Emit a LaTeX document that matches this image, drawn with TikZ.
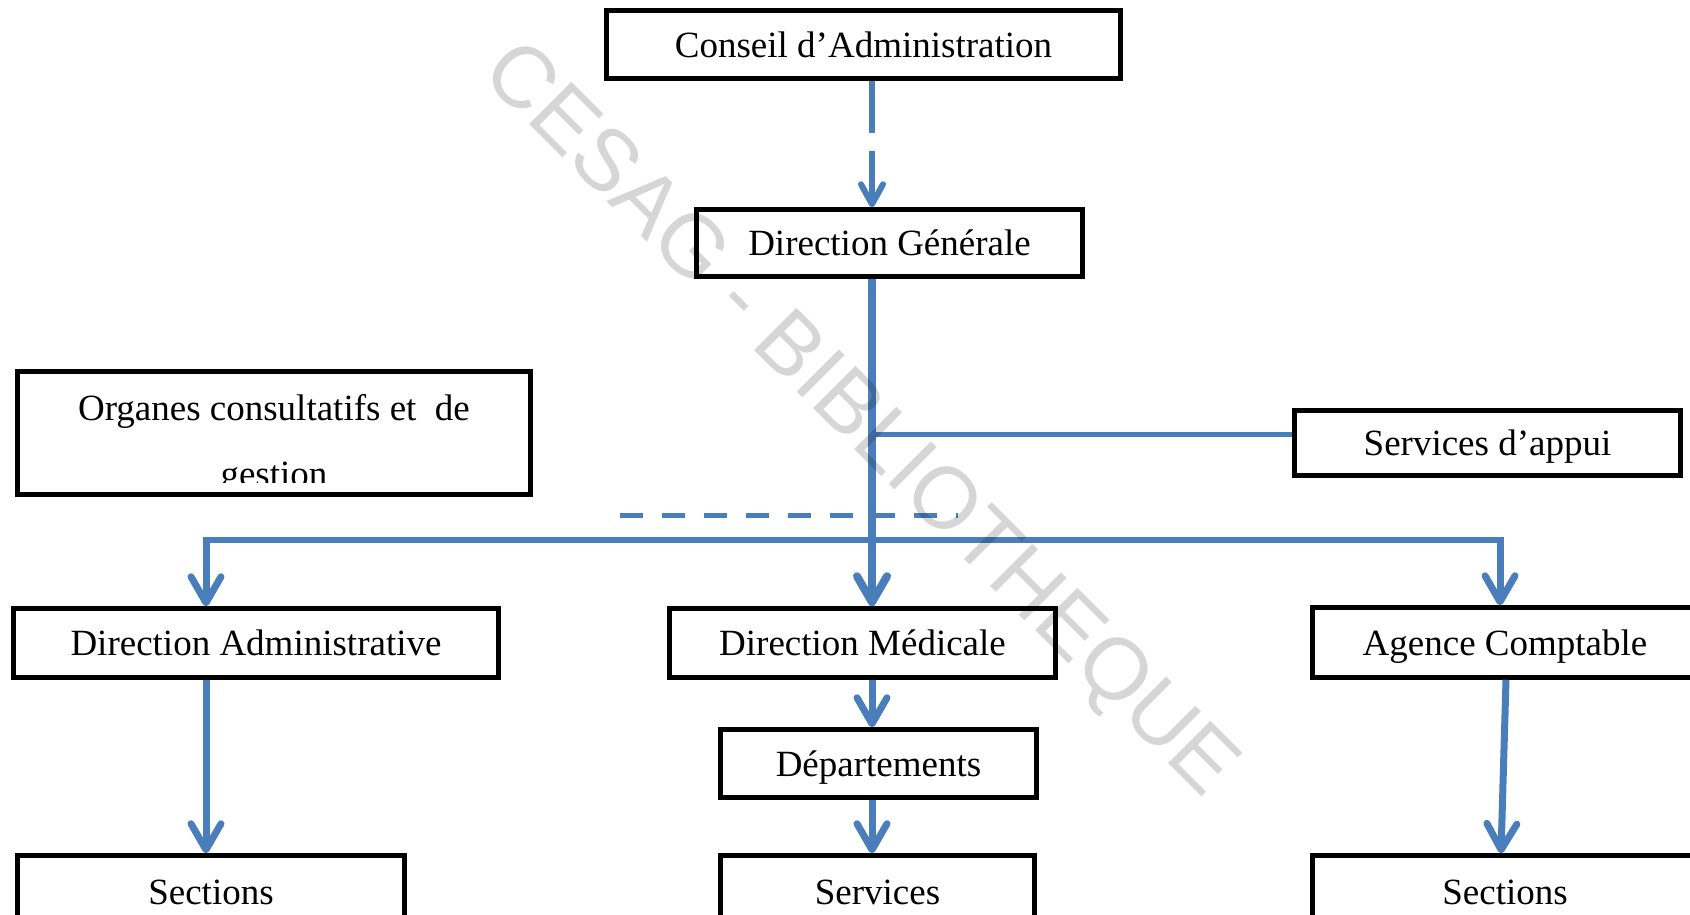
\documentclass[tikz,border=0pt]{standalone}
\usepackage{fontspec}
\setmainfont{Liberation Serif}
\newfontfamily\wmfont{Liberation Sans}
\usetikzlibrary{arrows.meta}
\definecolor{linkblue}{RGB}{74,126,187}
\begin{document}
\begin{tikzpicture}[x=1pt,y=-1pt,
  box/.style={draw=black, line width=4.5pt, inner sep=0pt, fill=white,
    text height=25pt, text depth=0pt,
    font=\fontsize{37}{44}\selectfont},
  link/.style={draw=linkblue, line width=7pt},
  arr/.style={-{Straight Barb[length=26pt,width=30pt,round]}},
  arrsmall/.style={-{Straight Barb[length=20pt,width=22pt,round]}},
]
\useasboundingbox (0,0) rectangle (1690,914);
\fill[white] (0,0) rectangle (1690,914);
\clip (0,0) rectangle (1690,914);

% boxes
\node[box, minimum width=514pt, minimum height=68pt] (CA) at (863.5,44.5) {Conseil d’Administration};
\node[box, minimum width=386pt, minimum height=67pt] (DG) at (889.5,243) {Direction Générale};
\node[box, minimum width=513pt, minimum height=123pt] (OC) at (274,433) {};
\node[box, minimum width=386pt, minimum height=65pt] (SA) at (1487.5,443) {Services d’appui};
\node[box, minimum width=485pt, minimum height=69pt] (DA) at (256,643) {Direction Administrative};
\node[box, minimum width=386pt, minimum height=69pt] (DM) at (862.5,643) {Direction Médicale};
\node[box, minimum width=385pt, minimum height=70pt] (AC) at (1505,642.5) {Agence Comptable};
\node[box, minimum width=316pt, minimum height=68pt] (DP) at (878.5,763.5) {Départements};
\node[box, minimum width=387pt, minimum height=73pt] (SL) at (211,892) {Sections};
\node[box, minimum width=314pt, minimum height=73pt] (SV) at (877.5,892) {Services};
\node[box, minimum width=385pt, minimum height=73pt] (SR) at (1505,892) {Sections};

% text of the consultative box, clipped inside the box
\begin{scope}
\clip (19,373) rectangle (529,482);
\node[font=\fontsize{37}{44}\selectfont, anchor=base] (OCa) at (274,420) {Organes consultatifs et\ \ de};
\node[font=\fontsize{37}{44}\selectfont, anchor=base] (OCb) at (274,486) {gestion};
\end{scope}

% helper coordinates
\coordinate (ax) at (872,0);
\coordinate (jsa) at (872,434);
\coordinate (dl) at (206,540);
\coordinate (dr) at (1500,540);
\coordinate (dlt) at (206,537);
\coordinate (drt) at (1500,537);
\coordinate (dsa) at (620,515);
\coordinate (dsb) at (958,515);

% connectors
\draw[link, line width=6pt, dash pattern=on 52pt off 18pt, arrsmall] (CA.south -| ax) -- (DG.north -| ax);
\draw[link, line width=8pt, arr] (DG.south -| ax) -- (DM.north -| ax);
\draw[link, line width=5pt] (jsa) -- (SA.west |- jsa);
\draw[link, line width=5pt, dash pattern=on 23pt off 19pt] (dsa) -- (dsb);
\draw[link, line width=6pt] ([xshift=-3pt]dl) -- ([xshift=3pt]dr);
\draw[link, arr] (dlt) -- (DA.north -| dl);
\draw[link, arr] (drt) -- (AC.north -| dr);
\draw[link, arr] (DA.south -| dl) -- (SL.north -| dl);
\draw[link, arr] (DM.south -| ax) -- (DP.north -| ax);
\draw[link, arr] (DP.south -| ax) -- (SV.north -| ax);
\draw[link, arr] ([xshift=1pt]AC.south) -- ([xshift=-4pt]SR.north);

% watermark
\node[rotate=-45, font=\wmfont\fontsize{87}{87}\selectfont, text=black, text opacity=0.16] (wm) at (858,422) {CESAG - BIBLIOTHEQUE};
\end{tikzpicture}
\end{document}
